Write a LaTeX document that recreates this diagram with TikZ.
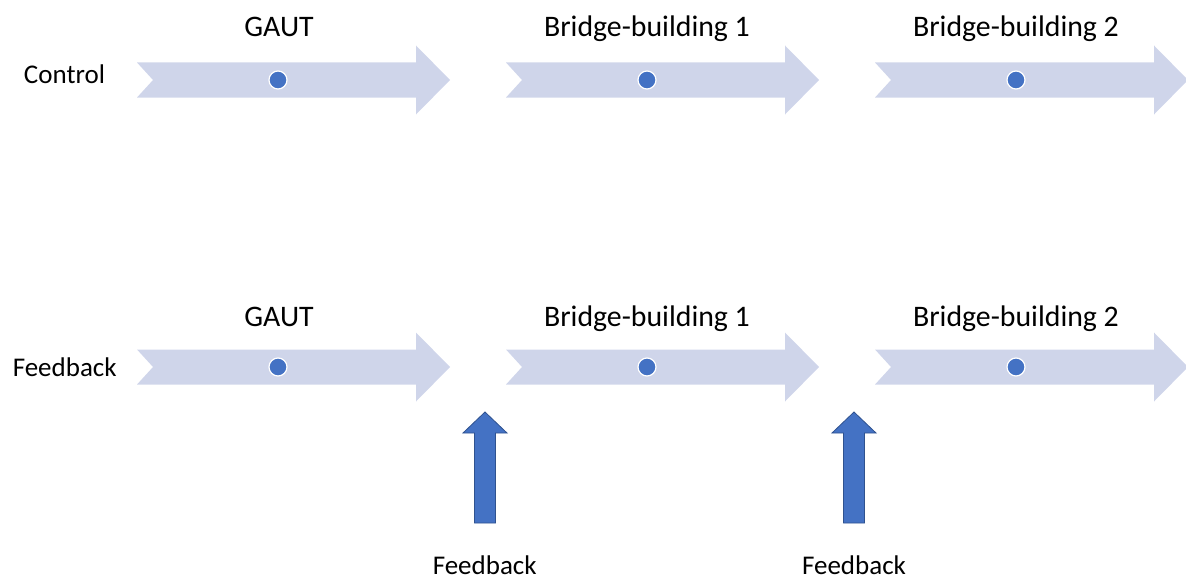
\documentclass[tikz,border=0pt]{standalone}
\usepackage{fontspec}
\setmainfont{Carlito}
\definecolor{chevfill}{HTML}{CFD5EA}
\definecolor{accent}{HTML}{4472C4}
\definecolor{accentdark}{HTML}{2F528F}
\tikzset{
  ttl/.style={font=\fontsize{29.8}{35}\selectfont, inner sep=0pt, anchor=base},
  lbl/.style={font=\fontsize{27}{32}\selectfont, inner sep=0pt, anchor=base},
  chevshape/.style={fill=chevfill, draw=none},
  dotstyle/.style={circle, fill=accent, draw=white, line width=1.2pt, minimum size=18pt, inner sep=0pt},
  uparrow/.style={fill=accent, draw=accentdark, line width=0.8pt},
  chev/.pic={
    \path[chevshape] (0,-17.5) -- (279,-17.5) -- (279,-34.5) -- (313,0) -- (279,34.5) -- (279,17.5) -- (0,17.5) -- (16,0) -- cycle;
  },
  upar/.pic={
    \path[uparrow] (-10.5,0) -- (-10.5,-90) -- (-22,-90) -- (0,-111) -- (22,-90) -- (10.5,-90) -- (10.5,0) -- cycle;
  }
}
\begin{document}
\begin{tikzpicture}[x=1pt,y=-1pt]
\useasboundingbox (0,0) rectangle (1186,578);
\clip (0,0) rectangle (1186,578);
% top row
\pic at (137,80) {chev};
\pic at (506,80) {chev};
\pic at (875,80) {chev};
\node[dotstyle] (d1) at (278,80) {};
\node[dotstyle] (d2) at (647,80) {};
\node[dotstyle] (d3) at (1016,80) {};
\node[ttl] (t1) at (279,36.7) {GAUT};
\node[ttl] (t2) at (647,36.7) {Bridge-building 1};
\node[ttl] (t3) at (1016,36.7) {Bridge-building 2};
\node[lbl] (ctrl) at (64.5,83.3) {Control};
% bottom row
\pic at (137,367) {chev};
\pic at (506,367) {chev};
\pic at (875,367) {chev};
\node[dotstyle] (e1) at (278,367) {};
\node[dotstyle] (e2) at (647,367) {};
\node[dotstyle] (e3) at (1016,367) {};
\node[ttl] (b1) at (279,326.7) {GAUT};
\node[ttl] (b2) at (647,326.7) {Bridge-building 1};
\node[ttl] (b3) at (1016,326.7) {Bridge-building 2};
\node[lbl] (fb) at (64.7,376.7) {Feedback};
% feedback arrows
\pic at (485,523) {upar};
\pic at (854,523) {upar};
\node[lbl] (f1) at (484.7,574) {Feedback};
\node[lbl] (f2) at (854,574) {Feedback};
\end{tikzpicture}
\end{document}
